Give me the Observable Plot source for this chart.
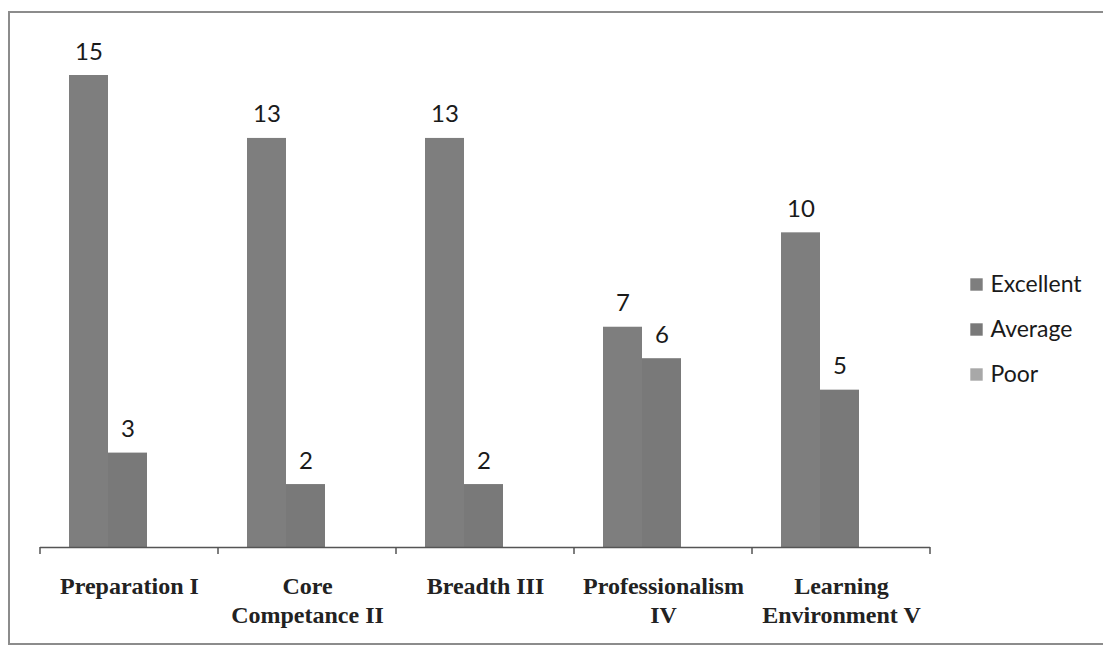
<!DOCTYPE html>
<html>
<head>
<meta charset="utf-8">
<script src="https://cdn.jsdelivr.net/npm/d3@7"></script>
<script src="https://cdn.jsdelivr.net/npm/@observablehq/plot@0.6"></script>
<style>
  html, body { margin: 0; padding: 0; background: #fff; }
  #wrap { position: relative; width: 1103px; height: 649px; overflow: hidden; }
  #frame { position: absolute; left: 8px; top: 11px; width: 1100px; height: 634px;
           border: 2px solid #8c8c8c; border-right: none; box-sizing: border-box; pointer-events: none; }
  #legend { position: absolute; left: 960px; top: 258px; }
</style>
</head>
<body>
<div id="wrap">
  <div id="chart"></div>
  <div id="legend"></div>
  <div id="frame"></div>
</div>
<script>
const categories = ["Preparation I", "Core Competance II", "Breadth III", "Professionalism IV", "Learning Environment V"];
const tickLabels = ["Preparation I", "Core\nCompetance II", "Breadth III", "Professionalism\nIV", "Learning\nEnvironment V"];
const series = ["Excellent", "Average", "Poor"];
const excellent = [15, 13, 13, 7, 10];
const average = [3, 2, 2, 6, 5];
const poor = [0, 0, 0, 0, 0];
const colors = ["#7e7e7e", "#797979", "#a8a8a8"];

const valuesBySeries = [excellent, average, poor];
const data = [];
categories.forEach((c, i) => {
  series.forEach((s, j) => data.push({category: c, series: s, value: valuesBySeries[j][i]}));
});
const labelFor = new Map(categories.map((c, i) => [c, tickLabels[i]]));

const plot = Plot.plot({
  width: 1103,
  height: 649,
  marginLeft: 38,
  marginRight: 171,
  marginTop: 75,
  marginBottom: 102,
  style: {background: "transparent"},
  fx: {domain: categories, paddingInner: 0, paddingOuter: 0, label: null},
  x: {domain: series, paddingInner: 0, paddingOuter: 0.7375, align: 0.47, axis: null},
  y: {domain: [0, 15], axis: null},
  color: {domain: series, range: colors},
  marks: [
    Plot.barY(data, {fx: "category", x: "series", y: "value", fill: "series"}),
    Plot.text(data.filter(d => d.value > 0), {
      fx: "category", x: "series", y: "value", text: d => String(d.value),
      lineAnchor: "bottom", dy: -16, fontSize: 24, fontFamily: "Lato", fill: "#1a1a1a"
    }),
    Plot.ruleY([0], {stroke: "#555", strokeWidth: 1.5}),
    Plot.axisFx({
      anchor: "bottom", tickSize: 0, tickPadding: 27,
      tickFormat: c => labelFor.get(c),
      fontSize: 24, fontWeight: "bold", fontFamily: "Liberation Serif",
      lineHeight: 1.17, fill: "#222", label: null
    })
  ]
});
document.getElementById("chart").appendChild(plot);

// boundary ticks on category axis, placed with the fx scale
const fxs = plot.scale("fx");
const yS = plot.scale("y");
const y0 = yS.apply(0);
const edges = fxs.domain.map(c => fxs.apply(c));
edges.push(fxs.apply(fxs.domain[fxs.domain.length - 1]) + fxs.bandwidth);
d3.select(plot).append("g")
  .attr("stroke", "#555").attr("stroke-width", 1.5)
  .selectAll("line").data(edges).join("line")
  .attr("x1", d => d).attr("x2", d => d)
  .attr("y1", y0).attr("y2", y0 + 7);

// legend on the right
const legendData = series.map((s, i) => ({series: s, color: colors[i]}));
const legend = Plot.plot({
  width: 140,
  height: 140,
  margin: 0,
  style: {background: "transparent"},
  y: {domain: series, type: "point", range: [25, 116], padding: 0, axis: null},
  marks: [
    Plot.dot(legendData, {y: "series", frameAnchor: "left", dx: 16, symbol: "square", r: 7, fill: "color", stroke: "none"}),
    Plot.text(legendData, {y: "series", text: "series", frameAnchor: "left", dx: 30, textAnchor: "start",
      fontSize: 23, fontFamily: "Lato", fill: "#1a1a1a"})
  ]
});
document.getElementById("legend").appendChild(legend);
</script>
</body>
</html>
